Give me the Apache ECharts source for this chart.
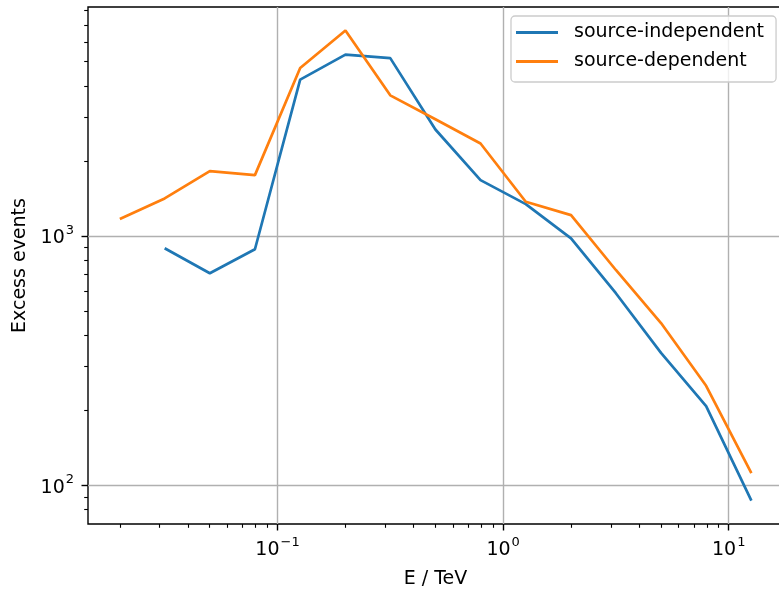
<!DOCTYPE html>
<html>
<head>
<meta charset="utf-8">
<script src="https://cdn.jsdelivr.net/npm/echarts@6/dist/echarts.min.js"></script>
<style>
  html, body { margin: 0; padding: 0; background: #fff; }
  #chart { width: 779px; height: 597px; }
</style>
</head>
<body>
<div id="chart"></div>
<script>
// Energy bin centres (TeV)
const energy = [0.0200, 0.0316, 0.0501, 0.0794, 0.126, 0.200, 0.316, 0.501, 0.794, 1.26, 2.00, 3.16, 5.01, 7.94, 12.6];
// Excess event counts per bin
const sourceIndependent = [null, 893, 709, 885, 4236, 5335, 5166, 2673, 1675, 1343, 979, 590, 340, 208, 87];
const sourceDependent = [1170, 1415, 1820, 1754, 4713, 6668, 3664, 2938, 2349, 1372, 1213, 731, 448, 251, 112];
const seriesNames = ['source-independent', 'source-dependent'];

// Axis ranges and tick positions (in data units)
const xRange = [0.01445, 17.4];
const yRange = [70.1, 8280];
const xMajor = [0.1, 1, 10];
const yMajor = [100, 1000];
const xMinor = [0.02, 0.03, 0.04, 0.05, 0.06, 0.07, 0.08, 0.09,
                0.2, 0.3, 0.4, 0.5, 0.6, 0.7, 0.8, 0.9,
                2, 3, 4, 5, 6, 7, 8, 9];
const yMinor = [80, 90, 200, 300, 400, 500, 600, 700, 800, 900,
                2000, 3000, 4000, 5000, 6000, 7000, 8000];

const FONT = 'DejaVu Sans';
const FS = 19;
const lg = Math.log10;

// Both axes are decades: the value axes work on log10 of the data.
const pairs = (xs, ys) => xs.map((x, i) => [x, ys[i]])
  .filter(p => p[1] != null)
  .map(p => [lg(p[0]), lg(p[1])]);

function powLabel(v) {
  const e = Math.round(v);
  const exp = e < 0 ? '\u2212' + (-e) : String(e);
  return '{b|10}{s|' + exp + '}';
}
const richLabel = {
  b: { fontFamily: FONT, fontSize: FS, color: '#000', lineHeight: 24, verticalAlign: 'bottom' },
  s: { fontFamily: FONT, fontSize: 13, color: '#000', lineHeight: 24, verticalAlign: 'top', padding: [0, 0, 0, 1] }
};

function majorAxis(range, ticks, extra) {
  const vals = ticks.map(lg);
  return Object.assign({
    type: 'value', min: lg(range[0]), max: lg(range[1]),
    axisLine: { show: false, onZero: false },
    axisTick: { show: true, customValues: vals, length: 6.5, lineStyle: { color: '#000', width: 1.4 } },
    axisLabel: { show: true, customValues: vals, formatter: powLabel, rich: richLabel, margin: 12 },
    splitLine: { show: true, lineStyle: { color: '#b0b0b0', width: 1.4 } },
    minorTick: { show: false }, minorSplitLine: { show: false }
  }, extra);
}
function minorAxis(range, ticks, extra) {
  return Object.assign({
    type: 'value', min: lg(range[0]), max: lg(range[1]),
    axisLine: { show: false, onZero: false },
    axisTick: { show: true, customValues: ticks.map(lg), length: 3.8, lineStyle: { color: '#000', width: 1.1 } },
    axisLabel: { show: false },
    splitLine: { show: false },
    minorTick: { show: false }
  }, extra);
}

const chart = echarts.init(document.getElementById('chart'), null, { renderer: 'canvas' });
chart.setOption({
  animation: false,
  backgroundColor: '#fff',
  textStyle: { fontFamily: FONT },
  grid: {
    left: 88, top: 7, width: 695, bottom: 73,
    containLabel: false, outerBoundsMode: 'none',
    show: true, borderColor: '#000', borderWidth: 1.4, backgroundColor: 'transparent'
  },
  xAxis: [
    majorAxis(xRange, xMajor, {
      position: 'bottom', name: 'E / TeV', nameLocation: 'middle', nameGap: 46,
      nameTextStyle: { fontFamily: FONT, fontSize: FS, color: '#000' }
    }),
    minorAxis(xRange, xMinor, { position: 'bottom' })
  ],
  yAxis: [
    majorAxis(yRange, yMajor, {
      position: 'left', name: 'Excess events', nameLocation: 'middle', nameGap: 58,
      nameTextStyle: { fontFamily: FONT, fontSize: FS, color: '#000' },
      axisLabel: { show: true, customValues: yMajor.map(lg), formatter: powLabel, rich: richLabel, margin: 14 }
    }),
    minorAxis(yRange, yMinor, { position: 'left' })
  ],
  legend: {
    orient: 'vertical', left: 511, top: 16,
    padding: [6, 12, 10, 5], itemGap: 8,
    itemWidth: 42, itemHeight: 3, icon: 'rect',
    backgroundColor: 'rgba(255,255,255,0.8)', borderColor: '#cccccc', borderWidth: 1.3, borderRadius: 4,
    textStyle: { fontFamily: FONT, fontSize: FS, color: '#000', lineHeight: 21, padding: [0, 0, 0, 11] },
    data: seriesNames
  },
  series: [
    {
      name: seriesNames[0], type: 'line', xAxisIndex: 0, yAxisIndex: 0,
      data: pairs(energy, sourceIndependent), symbol: 'none', showSymbol: false,
      lineStyle: { color: '#1f77b4', width: 2.7 }, itemStyle: { color: '#1f77b4' }, z: 3
    },
    {
      name: seriesNames[1], type: 'line', xAxisIndex: 0, yAxisIndex: 0,
      data: pairs(energy, sourceDependent), symbol: 'none', showSymbol: false,
      lineStyle: { color: '#ff7f0e', width: 2.7 }, itemStyle: { color: '#ff7f0e' }, z: 3
    }
  ]
});
</script>
</body>
</html>
